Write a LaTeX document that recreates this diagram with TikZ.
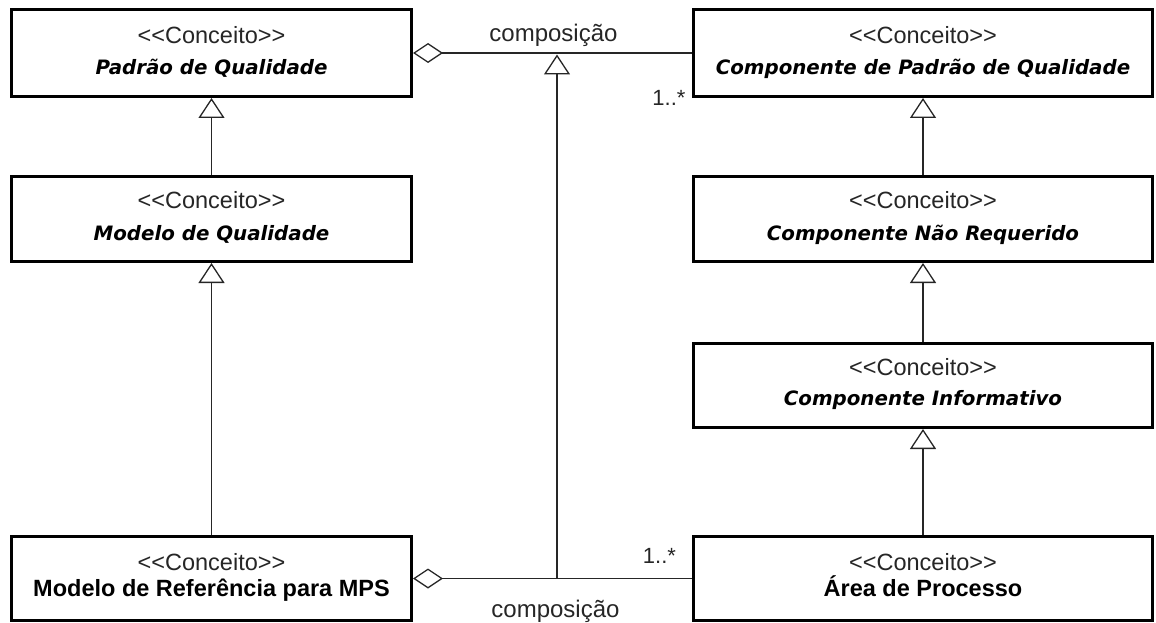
\documentclass[tikz,border=0pt]{standalone}
\usepackage{fontspec}
\setmainfont{Liberation Sans}[Ligatures=TeXOff]
\newfontfamily\obliquefont{DejaVu Sans}[Ligatures=TeXOff]
\usetikzlibrary{arrows.meta}

\begin{document}
\begin{tikzpicture}[x=1pt,y=-1pt,
  concept/.style={draw=black, line width=3pt, fill=white, inner sep=0pt},
  colleft/.style={concept, minimum width=400pt},
  colright/.style={concept, minimum width=459pt},
  stereo/.style={anchor=base, inner sep=0pt, text=black!85,
    font=\fontsize{23.5}{28}\selectfont},
  absname/.style={anchor=base, inner sep=0pt,
    font=\obliquefont\bfseries\itshape\fontsize{19.8}{24}\selectfont},
  realname/.style={anchor=base, inner sep=0pt,
    font=\bfseries\fontsize{23.5}{28}\selectfont},
  assoclabel/.style={anchor=base, inner sep=0pt, text=black!85,
    font=\fontsize{24}{28}\selectfont},
  multlabel/.style={anchor=base, inner sep=0pt, text=black!85,
    font=\fontsize{22}{26}\selectfont},
  link/.style={draw=black!85, line width=1.6pt},
  generalization/.style={link,
    -{Triangle[open, length=20pt, width=26pt, line width=1.3pt]}},
  aggregation/.style={link,
    {Diamond[open, length=30pt, width=20pt, line width=1.3pt]}-},
]
\useasboundingbox (0,0) rectangle (1156,623);

% left column
\node[colleft, minimum height=87pt] (pq) at (211.5,53) {};
\node[colleft, minimum height=85pt] (mq) at (211.5,219) {};
\node[colleft, minimum height=84pt] (mr) at (211.5,578.5) {};

% right column
\node[colright, minimum height=87pt] (cpq) at (923,53) {};
\node[colright, minimum height=85pt] (cnr) at (923,219) {};
\node[colright, minimum height=84pt] (ci) at (923,385.5) {};
\node[colright, minimum height=84pt] (ap) at (923,578.5) {};

% box texts
\node[stereo] (pq-s) at (211.5,44) {<<Conceito>>};
\node[absname] (pq-n) at (211.5,75) {Padrão de Qualidade};
\node[stereo] (mq-s) at (211.5,208) {<<Conceito>>};
\node[absname] (mq-n) at (211.5,240) {Modelo de Qualidade};
\node[stereo] (mr-s) at (211.5,570) {<<Conceito>>};
\node[realname] (mr-n) at (211.5,596) {Modelo de Referência para MPS};

\node[stereo] (cpq-s) at (923,44) {<<Conceito>>};
\node[absname] (cpq-n) at (923,75) {Componente de Padrão de Qualidade};
\node[stereo] (cnr-s) at (923,208) {<<Conceito>>};
\node[absname] (cnr-n) at (923,240) {Componente Não Requerido};
\node[stereo] (ci-s) at (923,375) {<<Conceito>>};
\node[absname] (ci-n) at (923,405) {Componente Informativo};
\node[stereo] (ap-s) at (923,570) {<<Conceito>>};
\node[realname] (ap-n) at (923,596) {Área de Processo};

% generalizations
\draw[generalization] (mq.north) -- (pq.south);
\draw[generalization] (mr.north) -- (mq.south);
\draw[generalization] (cnr.north) -- (cpq.south);
\draw[generalization] (ci.north) -- (cnr.south);
\draw[generalization] (ap.north) -- (ci.south);

% aggregations
\draw[aggregation] (pq.east) -- (cpq.west);
\draw[aggregation] (mr.east) -- (ap.west);

% the lower composition specializes the upper one
\coordinate (jt) at (557,53);
\coordinate (jb) at (557,578.5);
\draw[generalization, shorten >=1.5pt] (jb) -- (jt);

% association labels
\node[assoclabel] (top-lbl) at (553.5,41.5) {composição};
\node[assoclabel] (bot-lbl) at (555.5,617) {composição};
\node[multlabel] (top-mult) at (669,106) {1..*};
\node[multlabel] (bot-mult) at (659.5,563) {1..*};
\end{tikzpicture}
\end{document}
